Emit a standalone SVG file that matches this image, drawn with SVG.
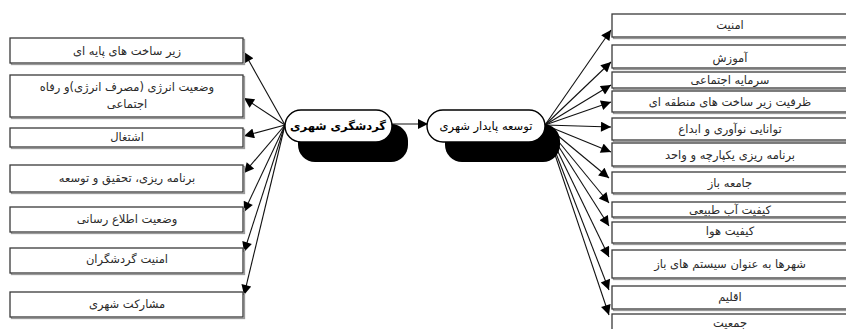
<svg xmlns="http://www.w3.org/2000/svg" width="846" height="329" viewBox="0 0 846 329">
<defs>
<style>
.box{fill:#fff;stroke:#3a3a3a;stroke-width:1.3}
.sh{fill:none;stroke:#9a9a9a;stroke-width:1.3}
.t{font-family:"DejaVu Sans","Noto Sans",sans-serif;font-size:11.5px;fill:#2a2a2a;text-anchor:middle}
.c{stroke:#111;stroke-width:1.1;fill:none;marker-end:url(#ah)}
.node{fill:#fff;stroke:#000;stroke-width:1.4}
.shadow{fill:#000}
.nt{font-family:"DejaVu Sans","Noto Sans",sans-serif;font-size:11.5px;fill:#000;text-anchor:middle}
</style>
<marker id="ah" viewBox="0 0 10 10" refX="10" refY="5" markerWidth="12" markerHeight="10" markerUnits="userSpaceOnUse" orient="auto">
<path d="M0,0 L10,5 L0,10 z" fill="#000"/>
</marker>
</defs>
<g id="connectors">
<line class="c" x1="285" y1="125" x2="244" y2="52"/>
<line class="c" x1="285" y1="125" x2="244" y2="98"/>
<line class="c" x1="285" y1="125" x2="244" y2="136"/>
<line class="c" x1="285" y1="125" x2="244" y2="173"/>
<line class="c" x1="285" y1="125" x2="244" y2="212"/>
<line class="c" x1="285" y1="125" x2="244" y2="252"/>
<line class="c" x1="285" y1="125" x2="244" y2="295"/>
<line class="c" x1="392" y1="124" x2="428" y2="124"/>
<line class="c" x1="545" y1="125" x2="611" y2="30"/>
<line class="c" x1="545" y1="125" x2="611" y2="62"/>
<line class="c" x1="545" y1="125" x2="611" y2="85"/>
<line class="c" x1="545" y1="125" x2="611" y2="102"/>
<line class="c" x1="545" y1="125" x2="611" y2="127"/>
<line class="c" x1="545" y1="125" x2="611" y2="152"/>
<line class="c" x1="545" y1="125" x2="609" y2="178"/>
<line class="c" x1="545" y1="125" x2="609" y2="203"/>
<line class="c" x1="545" y1="125" x2="609" y2="226"/>
<line class="c" x1="545" y1="125" x2="609" y2="257"/>
<line class="c" x1="545" y1="125" x2="609" y2="290"/>
<line class="c" x1="545" y1="125" x2="609" y2="315"/>
</g>
<g id="n-center">
<rect class="shadow" x="298" y="124" width="110" height="38" rx="17"/>
<rect class="node" x="285" y="110" width="107" height="32" rx="16"/>
<text class="nt" x="338" y="130" font-weight="bold">گردشگری شهری</text>
</g>
<g id="n-sustain">
<rect class="shadow" x="445" y="124" width="115" height="38" rx="17"/>
<rect class="node" x="427" y="110" width="118" height="32" rx="16"/>
<text class="nt" x="486" y="130" font-size="12.5px">توسعه پایدار شهری</text>
</g>
<g id="l1"><rect class="sh" x="11.5" y="39.5" width="233" height="25"/><rect class="box" x="10" y="38" width="233" height="25"/><text class="t" x="127" y="55">زیر ساخت های پایه ای</text></g>
<g id="l2"><rect class="sh" x="11.5" y="76.5" width="233" height="42"/><rect class="box" x="10" y="75" width="233" height="42"/><text class="t" x="127" y="91">وضعیت انرژی (مصرف انرژی)و رفاه</text><text class="t" x="127" y="108">اجتماعی</text></g>
<g id="l3"><rect class="sh" x="11.5" y="129.5" width="233" height="19"/><rect class="box" x="10" y="128" width="233" height="19"/><text class="t" x="127" y="141">اشتغال</text></g>
<g id="l4"><rect class="sh" x="11.5" y="166.5" width="233" height="27"/><rect class="box" x="10" y="165" width="233" height="27"/><text class="t" x="127" y="182">برنامه ریزی، تحقیق و توسعه</text></g>
<g id="l5"><rect class="sh" x="11.5" y="208.5" width="233" height="25"/><rect class="box" x="10" y="207" width="233" height="25"/><text class="t" x="127" y="223">وضعیت اطلاع رسانی</text></g>
<g id="l6"><rect class="sh" x="11.5" y="249.5" width="233" height="25"/><rect class="box" x="10" y="248" width="233" height="25"/><text class="t" x="127" y="263">امنیت گردشگران</text></g>
<g id="l7"><rect class="sh" x="11.5" y="293.5" width="233" height="25"/><rect class="box" x="10" y="292" width="233" height="25"/><text class="t" x="127" y="308">مشارکت شهری</text></g>
<g id="r1"><rect class="sh" x="613.5" y="15.5" width="235" height="23"/><rect class="box" x="612" y="14" width="235" height="23"/><text class="t" x="730" y="29">امنیت</text></g>
<g id="r2"><rect class="sh" x="613.5" y="46.5" width="235" height="23"/><rect class="box" x="612" y="45" width="235" height="23"/><text class="t" x="730" y="62">آموزش</text></g>
<g id="r3"><rect class="sh" x="613.5" y="73.5" width="235" height="16"/><rect class="box" x="612" y="72" width="235" height="16"/><text class="t" x="730" y="84">سرمایه اجتماعی</text></g>
<g id="r4"><rect class="sh" x="613.5" y="92.5" width="235" height="21"/><rect class="box" x="612" y="91" width="235" height="21"/><text class="t" x="730" y="106">ظرفیت زیر ساخت های منطقه ای</text></g>
<g id="r5"><rect class="sh" x="613.5" y="119.5" width="235" height="22"/><rect class="box" x="612" y="118" width="235" height="22"/><text class="t" x="730" y="133">توانایی نوآوری و ابداع</text></g>
<g id="r6"><rect class="sh" x="613.5" y="144.5" width="235" height="23"/><rect class="box" x="612" y="143" width="235" height="23"/><text class="t" x="730" y="159">برنامه ریزی یکپارچه و واحد</text></g>
<g id="r7"><rect class="sh" x="613.5" y="173.5" width="235" height="21"/><rect class="box" x="612" y="172" width="235" height="21"/><text class="t" x="730" y="187">جامعه باز</text></g>
<g id="r8"><rect class="sh" x="613.5" y="203.5" width="235" height="15"/><rect class="box" x="612" y="202" width="235" height="15"/><text class="t" x="730" y="214">کیفیت آب طبیعی</text></g>
<g id="r9"><rect class="sh" x="613.5" y="223.5" width="235" height="21"/><rect class="box" x="612" y="222" width="235" height="21"/><text class="t" x="730" y="235">کیفیت هوا</text></g>
<g id="r10"><rect class="sh" x="613.5" y="251.5" width="235" height="28"/><rect class="box" x="612" y="250" width="235" height="28"/><text class="t" x="730" y="268">شهرها به عنوان سیستم های باز</text></g>
<g id="r11"><rect class="sh" x="613.5" y="287.5" width="235" height="23"/><rect class="box" x="612" y="286" width="235" height="23"/><text class="t" x="730" y="301">اقلیم</text></g>
<g id="r12"><rect class="sh" x="613.5" y="315.5" width="235" height="20"/><rect class="box" x="612" y="314" width="235" height="20"/><text class="t" x="730" y="327">جمعیت</text></g>
</svg>
